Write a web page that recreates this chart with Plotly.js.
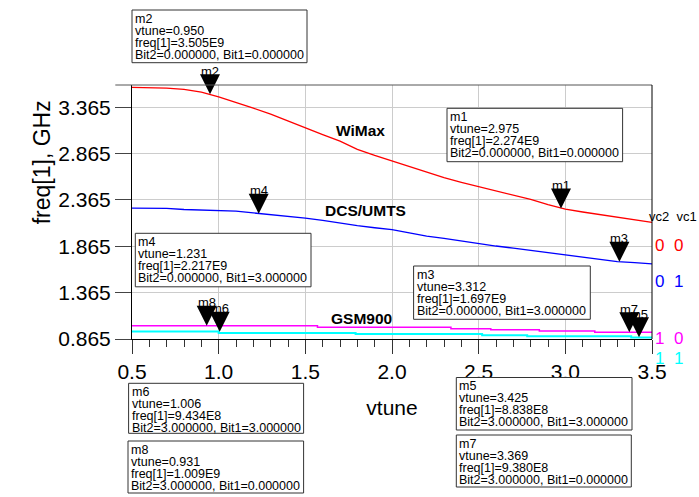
<!DOCTYPE html>
<html><head><meta charset="utf-8">
<script src="https://cdn.plot.ly/plotly-3.0.1.min.js"></script>
<style>html,body{margin:0;padding:0;background:#fff}</style>
</head><body><div id="chart" style="width:699px;height:497px"></div>
<script>
// ---- data ----
const vtune = [0.5,0.6,0.7,0.8,0.9,1.0,1.1,1.2,1.3,1.4,1.5,1.6,1.7,1.8,1.9,2.0,2.1,2.2,2.3,2.4,2.5,2.6,2.7,2.8,2.9,3.0,3.1,3.2,3.3,3.4,3.5];
const wimax = [3.580,3.578,3.572,3.558,3.527,3.478,3.420,3.355,3.290,3.215,3.142,3.070,3.000,2.910,2.845,2.786,2.725,2.660,2.605,2.555,2.510,2.465,2.420,2.370,2.315,2.265,2.235,2.205,2.175,2.148,2.122];
const dcsUmts = [2.277,2.277,2.275,2.262,2.257,2.254,2.245,2.225,2.207,2.190,2.170,2.145,2.115,2.088,2.065,2.044,2.010,1.975,1.950,1.920,1.893,1.868,1.845,1.820,1.797,1.772,1.748,1.722,1.700,1.688,1.676];
const gsmMagX = [0.5,1.57,2.34,2.57,2.85,3.17,3.5];
const gsmMagY = [1.009,0.992,0.976,0.965,0.952,0.938,0.938];
const gsmCyanX = [0.5,1.0,1.79,2.52,2.78,3.38,3.5];
const gsmCyanY = [0.945,0.930,0.918,0.906,0.894,0.882,0.882];

const markerNames = ['m1','m2','m3','m4','m5','m6','m7','m8'];
const markerVtune = [2.975,0.950,3.312,1.231,3.425,1.006,3.369,0.931];
const markerFreq  = [2.274,3.505,1.697,2.217,0.8838,0.9434,0.938,1.009];
const markerBit2  = [0,0,0,0,3,3,3,3];
const markerBit1  = [0,0,3,3,3,3,0,0];

const xTickVals = [0.5,1.0,1.5,2.0,2.5,3.0,3.5];
const yTickVals = [0.865,1.365,1.865,2.365,2.865,3.365];
const yTitle = 'freq[1], GHz';
const legendHeader = 'vc2\u00a0\u00a0vc1';
const legendRows = ['0\u00a0\u00a00','0\u00a0\u00a01','1\u00a0\u00a00','1\u00a0\u00a01'];
const seriesLabels = ['WiMax','DCS/UMTS','GSM900'];

// ---- layout geometry (pixels) ----
const FONT = 'Liberation Sans, Arial, sans-serif';
const L = 131.7, R = 651.7, T = 85, B = 339;
const px = x => (x - L) / (R - L);
const py = y => (B - y) / (B - T);
const colors = ['#ff0000','#0000ff','#ff00ff','#00ffff'];

const boxLeft = [446.7,131.7,413.3,135,456,128.3,456,127.7];
const boxTop  = [108.3,10,266,233.3,377.5,383.3,435,441];
const boxW    = [175.6,175,176.7,175.7,175.7,175,175,175.6];
const boxH    = [53.4,52.7,53.3,53.5,52.5,50,52,52];

const legendRowY = [245.7,281.7,338.3,358.3];
const labelPos = [[360,130],[365.3,210],[361.4,318.3]];

function fmtFreq(f){ return f >= 1 ? f.toFixed(3)+'E9' : (f*10).toFixed(3)+'E8'; }
function fmtBit(b){ return b.toFixed(6); }

const traces = [
  {x: vtune, y: wimax, mode:'lines', line:{color:colors[0], width:1.3}, hoverinfo:'skip'},
  {x: vtune, y: dcsUmts, mode:'lines', line:{color:colors[1], width:1.3}, hoverinfo:'skip'},
  {x: gsmMagX, y: gsmMagY, mode:'lines', line:{color:colors[2], width:1.5, shape:'hv'}, hoverinfo:'skip'},
  {x: gsmCyanX, y: gsmCyanY, mode:'lines', line:{color:colors[3], width:2, shape:'hv'}, hoverinfo:'skip'},
  {x: markerVtune, y: markerFreq, mode:'markers', cliponaxis:false,
   marker:{symbol:'arrow-down', size:20, color:'#000', line:{width:0}}, hoverinfo:'skip'}
];

const shapes = [];
const annotations = [];

// top border extending left like a tick, right border
shapes.push({type:'line', xref:'paper', yref:'paper', x0:px(115), x1:1, y0:1, y1:1, line:{color:'#555', width:1}});
shapes.push({type:'line', xref:'paper', yref:'paper', x0:1, x1:1, y0:0, y1:1, line:{color:'#000', width:1}});

// marker labels
markerNames.forEach((n,i)=>{
  annotations.push({x:markerVtune[i], y:markerFreq[i], xref:'x', yref:'y', text:n, showarrow:false,
    yshift:23, font:{family:FONT, size:13, color:'#000'}});
});

// marker boxes
markerNames.forEach((n,i)=>{
  shapes.push({type:'rect', xref:'paper', yref:'paper', layer:'above',
    x0:px(boxLeft[i]), x1:px(boxLeft[i]+boxW[i]), y0:py(boxTop[i]), y1:py(boxTop[i]+boxH[i]),
    fillcolor:'#fff', line:{color:'#333', width:1}});
  const lines = [n, 'vtune='+markerVtune[i].toFixed(3), 'freq[1]='+fmtFreq(markerFreq[i]),
    'Bit2='+fmtBit(markerBit2[i])+', Bit1='+fmtBit(markerBit1[i])];
  lines.forEach((t,k)=>{
    annotations.push({xref:'paper', yref:'paper', x:px(boxLeft[i]+2), y:py(boxTop[i]+8.5+k*12.1),
      xanchor:'left', yanchor:'middle', text:t, showarrow:false, borderpad:0,
      font:{family:FONT, size:12.5, color:'#000'}});
  });
});

// series labels
seriesLabels.forEach((s,i)=>{
  annotations.push({xref:'paper', yref:'paper', x:px(labelPos[i][0]), y:py(labelPos[i][1]),
    xanchor:'center', yanchor:'middle', text:s, showarrow:false,
    font:{family:FONT, size:15.5, color:'#000', weight:'bold'}});
});

// y axis title (placed to match reference)
annotations.push({xref:'paper', yref:'paper', x:px(42), y:py(162), xanchor:'center', yanchor:'middle',
  text:yTitle, textangle:-90, showarrow:false, font:{family:FONT, size:23, color:'#000'}});

// legend
annotations.push({xref:'paper', yref:'paper', x:px(648), y:py(216.7), xanchor:'left', yanchor:'middle',
  text:legendHeader, showarrow:false, borderpad:0, font:{family:FONT, size:13, color:'#000'}});
legendRows.forEach((t,i)=>{
  annotations.push({xref:'paper', yref:'paper', x:px(654), y:py(legendRowY[i]), xanchor:'left', yanchor:'middle',
    text:t, showarrow:false, borderpad:0, font:{family:FONT, size:17, color:colors[i]}});
});

const layout = {
  width:699, height:497, autosize:false,
  margin:{l:L, r:699-R, t:T, b:497-B, pad:0},
  paper_bgcolor:'#fff', plot_bgcolor:'#fff',
  showlegend:false,
  font:{family:FONT, color:'#000'},
  xaxis:{range:[0.5,3.5], tickmode:'array', tickvals:xTickVals, ticktext:xTickVals.map(v=>v.toFixed(1)),
    ticks:'outside', ticklen:14, tickwidth:1, tickcolor:'#333',
    showgrid:true, gridcolor:'#cccccc', gridwidth:1, showline:true, linecolor:'#000', linewidth:1,
    zeroline:false, tickfont:{family:FONT, size:21, color:'#000'},
    minor:{tickmode:'linear', tick0:0.5, dtick:0.1, ticks:'outside', ticklen:7, tickcolor:'#333', showgrid:false},
    title:{text:'vtune', font:{family:FONT, size:21, color:'#000'}, standoff:18}, automargin:false},
  yaxis:{range:[0.865,3.605], tickmode:'array', tickvals:yTickVals, ticktext:yTickVals.map(v=>v.toFixed(3)),
    ticks:'outside', ticklen:16, tickwidth:1, tickcolor:'#444',
    showgrid:true, gridcolor:'#cccccc', gridwidth:1, showline:true, linecolor:'#000', linewidth:1,
    zeroline:false, tickfont:{family:FONT, size:21, color:'#000'}, automargin:false},
  shapes:shapes, annotations:annotations
};

Plotly.newPlot('chart', traces, layout, {staticPlot:true, displayModeBar:false});
</script></body></html>
